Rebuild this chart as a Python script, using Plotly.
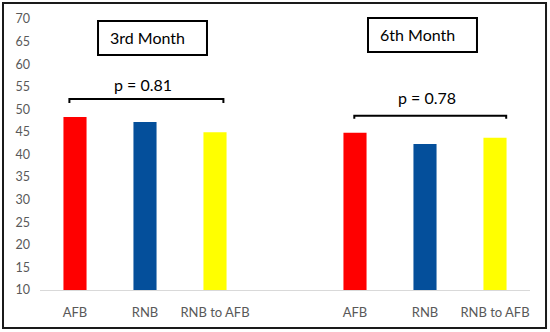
import plotly.graph_objects as go

# ---- data ----
months = ["3rd Month", "6th Month"]
groups = ["AFB", "RNB", "RNB to AFB"]
values_3rd = [48.3, 47.2, 44.9]
values_6th = [44.8, 42.3, 43.7]
p_values = ["p = 0.81", "p = 0.78"]
colors = ["#FF0000", "#044F9B", "#FFFF00"]

# category slots: 3 bars, a blank slot, 3 bars
pos_3rd = [0, 1, 2]
pos_6th = [4, 5, 6]
x_all = pos_3rd + pos_6th
y_all = values_3rd + values_6th
c_all = colors + colors
tick_text = groups + groups

FONT = "Lato"
fig = go.Figure()
fig.add_trace(go.Bar(x=x_all, y=y_all, marker=dict(color=c_all, line=dict(width=0)),
                     width=0.33, showlegend=False, hoverinfo="skip"))

fig.update_layout(
    width=550, height=332,
    margin=dict(l=40, r=20, t=19, b=42, autoexpand=False),
    paper_bgcolor="white", plot_bgcolor="white",
    font=dict(family=FONT, color="#595959"),
    xaxis=dict(range=[-0.5, 6.5], tickvals=x_all, ticktext=tick_text,
               showline=True, linecolor="#D9D9D9", linewidth=1,
               showgrid=False, zeroline=False, ticks="", ticklabelstandoff=10,
               tickfont=dict(size=13, color="#595959", family=FONT)),
    yaxis=dict(range=[10, 70], dtick=5, tick0=10, showgrid=False, zeroline=False,
               showline=False, ticks="", ticklabelstandoff=9,
               tickfont=dict(size=12.5, color="#595959", family=FONT)),
)

# brackets with p-values
brackets = [(-0.08, 2.12, 52.3, 51.4, 55.4, 1.0), (3.99, 6.16, 48.6, 47.9, 52.6, 5.0)]
for (xa, xb, yt, yb, yp, xp), ptxt in zip(brackets, p_values):
    fig.add_shape(type="path", xref="x", yref="y",
                  path=f"M {xa},{yb} L {xa},{yt} L {xb},{yt} L {xb},{yb}",
                  line=dict(color="black", width=2))
    fig.add_annotation(x=(xa + xb) / 2 - 0.05, y=yp, xref="x", yref="y", text=ptxt,
                       xanchor="center", yanchor="middle",
                       showarrow=False, font=dict(size=16, color="black", family=FONT))

# month label boxes
boxes = [(0.1184, 0.3408, 0.8672, 0.9926, 0.2194, 0.9317),
         (0.6694, 0.8918, 0.8782, 1.0037, 0.7714, 0.9410)]
for (x0, x1, y0, y1, tx, ty), m in zip(boxes, months):
    fig.add_shape(type="rect", xref="paper", yref="paper", x0=x0, x1=x1, y0=y0, y1=y1,
                  line=dict(color="black", width=2), fillcolor="white", layer="below")
    fig.add_annotation(x=tx, y=ty, xref="paper", yref="paper", text=m, showarrow=False,
                       xanchor="center", yanchor="middle",
                       font=dict(size=16, color="black", family=FONT))

# outer frame
fig.add_shape(type="rect", xref="paper", yref="paper",
              x0=-0.0755, x1=1.0327, y0=-0.1402, y1=1.059,
              line=dict(color="#1a1a1a", width=2))

fig.write_html("out.html", config={"displayModeBar": False},
               post_script="document.body.style.margin='0';document.body.style.padding='0';")
